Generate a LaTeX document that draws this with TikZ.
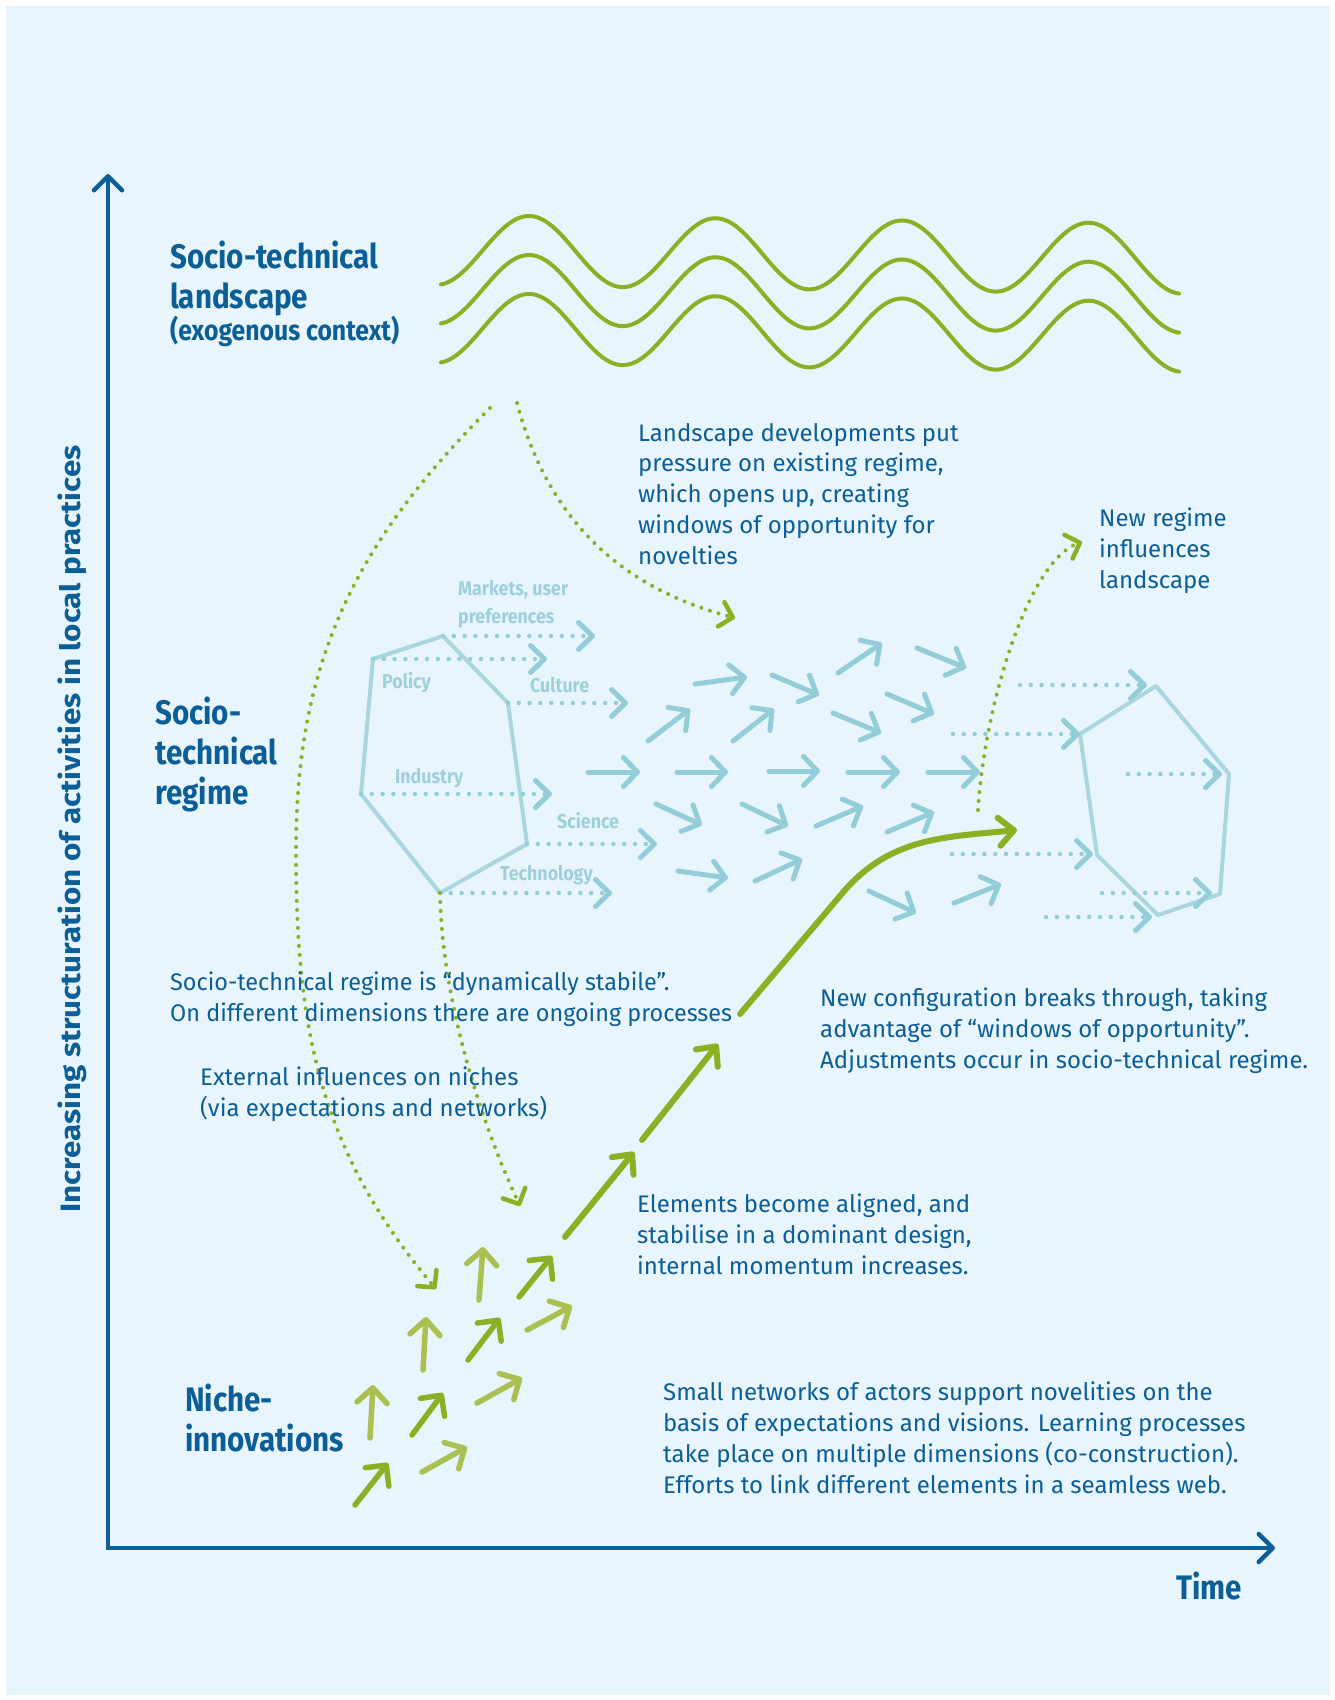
\documentclass[tikz,border=0pt]{standalone}
\usepackage{fontspec}
\setmainfont{Fira Sans}
\newfontfamily\lblfont{Fira Sans}[FakeStretch=0.87]
\newfontfamily\dimfont{Fira Sans}[FakeStretch=0.89]
\newfontfamily\vfont{Fira Sans}[FakeStretch=1.12]
\newfontfamily\narrowbody{Fira Sans}[FakeStretch=0.975]
\usetikzlibrary{arrows.meta}
\definecolor{bg}{RGB}{233,245,252}
\definecolor{txtblue}{RGB}{12,94,150}
\definecolor{gdark}{RGB}{140,176,36}
\definecolor{glight}{RGB}{170,192,82}
\definecolor{barrowc}{RGB}{146,205,216}
\definecolor{hexc}{RGB}{170,214,223}
\definecolor{lblc}{RGB}{158,208,220}
\tikzset{
  body/.style={font=\fontsize{24}{30.7}\selectfont, text=txtblue, align=left, inner sep=0pt, anchor=base west},
  biglab/.style={font=\lblfont\bfseries\fontsize{34}{40}\selectfont, text=txtblue, align=left, inner sep=0pt, anchor=base west},
  exolab/.style={font=\lblfont\bfseries\fontsize{28.5}{32}\selectfont, text=txtblue, inner sep=0pt, anchor=base west},
  vlab/.style={font=\vfont\bfseries\fontsize{28}{32}\selectfont, text=txtblue, inner sep=0pt},
  dimlab/.style={font=\dimfont\bfseries\fontsize{20}{28}\selectfont, text=lblc, align=left, inner sep=0pt, anchor=base west},
  axisline/.style={line width=4.5pt, draw=txtblue, {Straight Barb[length=14pt,width=28pt,round]}-{Straight Barb[length=14pt,width=28pt,round]}},
  wave/.style={line width=4pt, draw=gdark, line cap=round},
  bluearr/.style={line width=5pt, draw=barrowc, line cap=round, -{Straight Barb[length=14pt,width=29pt,round]}},
  bluedot/.style={line width=4.5pt, draw=barrowc, line cap=round, dash pattern=on 0pt off 10.8pt, -{Straight Barb[length=14pt,width=27pt,round,line width=5pt]}},
  hexline/.style={line width=4pt, draw=hexc, line join=round},
  gdot/.style={line width=4pt, draw=gdark, line cap=round, dash pattern=on 0pt off 9pt, -{Straight Barb[length=12pt,width=25pt,round,line width=4.5pt]}},
  nichedark/.style={line width=5.5pt, draw=gdark, line cap=round, -{Straight Barb[length=15pt,width=30pt,round]}},
  nichelight/.style={line width=5.5pt, draw=glight, line cap=round, -{Straight Barb[length=15pt,width=30pt,round]}},
  mainarr/.style={line width=6pt, draw=gdark, line cap=round, line join=round, -{Straight Barb[length=15pt,width=28pt,round]}}
}
\begin{document}
\begin{tikzpicture}[x=1pt,y=-1pt]
\useasboundingbox (0,0) rectangle (1335,1700);
\fill[white] (0,0) rectangle (1335,1700);
\fill[bg] (6,6) rectangle (1330,1695);

% axes
\coordinate (ytip) at (108,174);
\coordinate (orig) at (108,1548);
\coordinate (xtip) at (1275,1548);
\draw[axisline] (ytip) -- (orig) -- (xtip);
\node[vlab, rotate=90] (ylab) at (72,829) {Increasing structuration of activities in local practices};
\node[biglab] (time) at (1176,1599) {Time};

% landscape waves
\foreach \d in {0,39,78}{
  \draw[wave] plot[domain=441:1179,samples=300] (\x,{251+\d+0.012*(\x-529)+35*cos((\x-436)*1.930295)});
}
\node[biglab] (landlab) at (170,308) {Socio-technical\\landscape};
\node[exolab] (exo) at (170,340) {(exogenous context)};

% regime label
\node[biglab] (reglab) at (155,804) {Socio-\\technical\\regime};
% niche label
\node[biglab] (nichelab) at (185,1451) {Niche-\\innovations};

% left hexagon
\coordinate (v1) at (443,636);
\coordinate (v6) at (508,703);
\coordinate (v5) at (527,844);
\coordinate (v4) at (440,893);
\coordinate (v3) at (361,794);
\coordinate (v2) at (373,659);
\draw[hexline] (v1) -- (v6) -- (v5) -- (v4) -- (v3) -- (v2) -- cycle;
\coordinate (t1) at (595,636);
\coordinate (t2) at (547,659);
\coordinate (t6) at (628,703);
\coordinate (t3) at (552,794);
\coordinate (t5) at (657,844);
\coordinate (t4) at (612,893);
\draw[bluedot] (v1) -- (t1);
\draw[bluedot] (v2) -- (t2);
\draw[bluedot] (v6) -- (t6);
\draw[bluedot] (v3) -- (t3);
\draw[bluedot] (v5) -- (t5);
\draw[bluedot] (v4) -- (t4);
\node[dimlab] (markets) at (458,623) {Markets, user\\preferences};
\node[dimlab] (policy) at (382,688) {Policy};
\node[dimlab] (culture) at (530,692) {Culture};
\node[dimlab] (industry) at (395,783) {Industry};
\node[dimlab] (science) at (557,828) {Science};
\node[dimlab] (techno) at (500,880) {Technology};

% right hexagon
\coordinate (w1) at (1156,686);
\coordinate (w2) at (1229,774);
\coordinate (w3) at (1220,894);
\coordinate (w4) at (1158,915);
\coordinate (w5) at (1097,855);
\coordinate (w6) at (1080,734);
\draw[hexline] (w1) -- (w2) -- (w3) -- (w4) -- (w5) -- (w6) -- cycle;
\draw[bluedot] (1020,685) -- (1147,685);
\draw[bluedot] (953,734) -- (w6);
\draw[bluedot] (1128,774) -- (1222,774);
\draw[bluedot] (952,854) -- (1093,854);
\draw[bluedot] (1102,893) -- (1212,893);
\draw[bluedot] (1046,917) -- (1152,917);

% field of regime arrows
\foreach \a/\b/\c/\d in {
 695/684/747/677, 772/675/819/695, 838/673/882/643, 917/648/966/668,
 648/741/690/709, 733/741/774/709, 833/713/881/733, 887/694/934/714,
 588/772/640/772, 677/772/728/772, 769/771/820/771, 848/772/900/772, 928/772/980/772,
 656/804/702/825, 742/804/788/826, 816/826/863/806, 887/832/934/812,
 678/871/728/878, 755/881/802/859, 869/891/916/913, 954/903/1001/884}{
  \draw[bluearr] (\a,\b) -- (\c,\d);
}

% niche arrows
\foreach \a/\b/\c/\d in {355/1505/388/1463, 412/1435/443/1393, 468/1360/500/1318, 519/1297/552/1256}{
  \draw[nichedark] (\a,\b) -- (\c,\d);
}
\foreach \a/\b/\c/\d in {422/1472/467/1447, 370/1438/373/1385, 477/1403/522/1378, 423/1370/426/1317, 527/1330/572/1306, 479/1300/483/1247}{
  \draw[nichelight] (\a,\b) -- (\c,\d);
}

% main development path
\coordinate (k0) at (565,1237);
\coordinate (k1) at (634,1152);
\coordinate (l0) at (642,1140);
\coordinate (l1) at (718,1044);
\coordinate (m0) at (740,1014);
\coordinate (m1) at (845,890);
\coordinate (m2) at (1017,830);
\draw[mainarr] (k0) -- (k1);
\draw[mainarr] (l0) -- (l1);
\draw[mainarr] (m0) -- (m1) .. controls (892,837) and (946,837) .. (m2);

% dotted green influences
\coordinate (lcS) at (490,408);
\coordinate (lcM) at (296,850);
\coordinate (lcE) at (436,1289);
\draw[gdot] (lcS) .. controls (356,542) and (296,661) .. (lcM) .. controls (296,1030) and (320,1151) .. (lcE);
\coordinate (rcS) at (517,403);
\coordinate (rcE) at (735,618);
\draw[gdot] (rcS) .. controls (548,519) and (619,587) .. (rcE);
\coordinate (ncE) at (520,1206);
\draw[gdot] (v4) .. controls (442,1000) and (480,1120) .. (ncE);
\coordinate (nrS) at (978,810);
\coordinate (nrE) at (1082,542);
\draw[gdot] (nrS) .. controls (985,700) and (1030,560) .. (nrE);

% texts (anchored at the baseline of their last line)
\node[body] (tland) at (638,564) {Landscape developments put\\pressure on existing regime,\\which opens up, creating\\windows of opportunity for\\novelties};
\node[body] (tnew) at (1099,588) {New regime\\influences\\landscape};
\node[body, font=\narrowbody\fontsize{24}{30.7}\selectfont] (tstab) at (170,1021) {Socio-technical regime is “dynamically stabile”.\\On different dimensions there are ongoing processes};
\node[body] (text) at (200,1116) {External influences on niches\\(via expectations and networks)};
\node[body] (tconf) at (820,1068) {New configuration breaks through, taking\\advantage of “windows of opportunity”.\\Adjustments occur in socio-technical regime.};
\node[body] (telem) at (637,1274) {Elements become aligned, and\\stabilise in a dominant design,\\internal momentum increases.};
\node[body] (tsmall) at (663,1493) {Small networks of actors support novelities on the\\basis of expectations and visions. Learning processes\\take place on multiple dimensions (co-construction).\\Efforts to link different elements in a seamless web.};
\end{tikzpicture}
\end{document}
